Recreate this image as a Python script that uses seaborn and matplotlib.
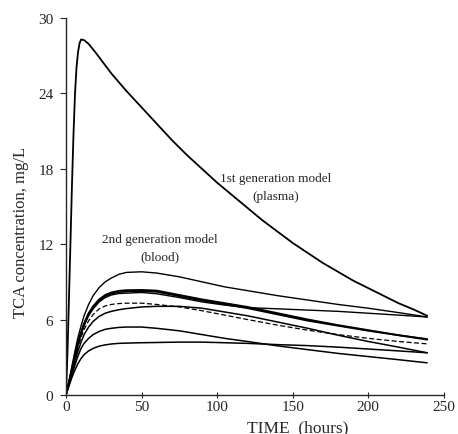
import numpy as np
import pandas as pd
import matplotlib
matplotlib.use("Agg")
import matplotlib.pyplot as plt
import seaborn as sns

# 1st generation model (plasma)
t_plasma = [0, 1, 2, 3, 4, 5, 6, 7, 8, 9, 10, 12, 15, 20, 30, 40, 50, 60, 70, 80, 90, 100, 110,
            120, 130, 140, 150, 160, 170, 180, 190, 200, 210, 220, 230, 239]
c_plasma = [0, 3.3, 7.7, 12.2, 16.8, 20.8, 24.0, 26.1, 27.3, 28.0, 28.3, 28.25, 27.95, 27.2, 25.6,
            24.2, 22.9, 21.6, 20.3, 19.1, 18.0, 16.9, 15.9, 14.9, 13.9, 13.0, 12.1, 11.3, 10.5, 9.8,
            9.1, 8.5, 7.9, 7.3, 6.8, 6.3]

# 2nd generation model (blood)
t_blood = [0, 2, 4, 6, 8, 10, 12, 15, 18, 22, 26, 30, 35, 40, 50, 60, 75, 90, 105, 120, 140, 160,
           180, 200, 220, 239]
blood_a = [0, 1.1, 2.3, 3.5, 4.6, 5.5, 6.3, 7.2, 7.9, 8.55, 9.0, 9.3, 9.6, 9.75, 9.8, 9.7, 9.4,
           9.0, 8.6, 8.3, 7.9, 7.55, 7.2, 6.9, 6.55, 6.2]
blood_k1 = [0, 1.0, 2.1, 3.2, 4.2, 5.0, 5.7, 6.5, 7.05, 7.6, 7.95, 8.15, 8.28, 8.33, 8.35, 8.3,
            7.95, 7.6, 7.3, 7.0, 6.5, 6.0, 5.55, 5.15, 4.75, 4.4]
blood_k2 = [0, 1.0, 2.0, 3.1, 4.1, 4.9, 5.6, 6.4, 6.95, 7.5, 7.85, 8.05, 8.18, 8.22, 8.25, 8.2,
            7.85, 7.5, 7.2, 6.9, 6.4, 5.9, 5.5, 5.1, 4.75, 4.45]
blood_b = [0, 1.0, 2.0, 3.0, 4.0, 4.8, 5.5, 6.3, 6.85, 7.4, 7.75, 7.95, 8.07, 8.1, 8.15, 8.05,
           7.75, 7.4, 7.15, 6.95, 6.85, 6.75, 6.65, 6.5, 6.35, 6.2]
blood_dash = [0, 0.95, 1.9, 2.9, 3.8, 4.6, 5.2, 5.9, 6.4, 6.85, 7.08, 7.2, 7.27, 7.3, 7.3, 7.2,
              7.0, 6.7, 6.35, 6.0, 5.55, 5.15, 4.8, 4.5, 4.25, 4.06]
blood_d = [0, 0.9, 1.8, 2.7, 3.5, 4.2, 4.8, 5.4, 5.85, 6.25, 6.5, 6.65, 6.78, 6.87, 7.0, 7.05,
           7.05, 6.9, 6.6, 6.3, 5.8, 5.3, 4.75, 4.25, 3.8, 3.35]
blood_e = [0, 0.8, 1.6, 2.4, 3.1, 3.7, 4.1, 4.5, 4.8, 5.05, 5.22, 5.3, 5.37, 5.4, 5.4, 5.3, 5.1,
           4.8, 4.5, 4.25, 3.9, 3.6, 3.3, 3.05, 2.8, 2.55]
blood_f = [0, 0.7, 1.4, 2.0, 2.5, 2.9, 3.2, 3.5, 3.7, 3.88, 3.98, 4.05, 4.1, 4.12, 4.15, 4.17, 4.2,
           4.2, 4.15, 4.1, 4.0, 3.92, 3.8, 3.65, 3.5, 3.35]

x_ticks = [0, 50, 100, 150, 200, 250]
y_ticks = [0, 6, 12, 18, 24, 30]

sns.set_style("ticks")
plt.rcParams['font.family'] = ['Liberation Serif', 'DejaVu Serif']

fig = plt.figure(figsize=(4.58, 4.35), dpi=100)
ax = fig.add_axes([0.144, 0.09, 0.825, 0.866])

sns.lineplot(x=t_plasma, y=c_plasma, ax=ax, color='black', lw=1.3)
for vals, lw in [(blood_a, 1.0), (blood_k1, 1.4), (blood_k2, 1.2), (blood_b, 1.0),
                 (blood_d, 1.1), (blood_e, 1.1), (blood_f, 1.1)]:
    sns.lineplot(x=t_blood, y=vals, ax=ax, color='black', lw=lw)
sns.lineplot(x=t_blood, y=blood_dash, ax=ax, color='black', lw=0.9)
ax.lines[-1].set_dashes([4, 2])

ax.set_xlim(0, 250)
ax.set_ylim(0, 30)
ax.set_xticks(x_ticks)
ax.set_yticks(y_ticks)
ax.tick_params(axis='x', direction='inout', length=5, labelsize=11, pad=1)
ax.tick_params(axis='y', direction='out', length=4, labelsize=11, pad=5)
sns.despine(ax=ax)
for s in ['left', 'bottom']:
    ax.spines[s].set_linewidth(1.0)

ax.set_xlabel("TIME  (hours)", fontsize=12.5)
ax.xaxis.set_label_coords(153 / 250, -0.065)
ax.set_ylabel("TCA concentration, mg/L", fontsize=12)
ax.yaxis.set_label_coords(-0.098, 0.435)

ax.text(139, 17.3, "1st generation model", ha='center', va='center', fontsize=9.5)
ax.text(139, 15.8, "(plasma)", ha='center', va='center', fontsize=9.5)
ax.text(62, 12.4, "2nd generation model", ha='center', va='center', fontsize=9.5)
ax.text(62, 11.0, "(blood)", ha='center', va='center', fontsize=9.5)

fig.savefig("out.png", dpi=100)
